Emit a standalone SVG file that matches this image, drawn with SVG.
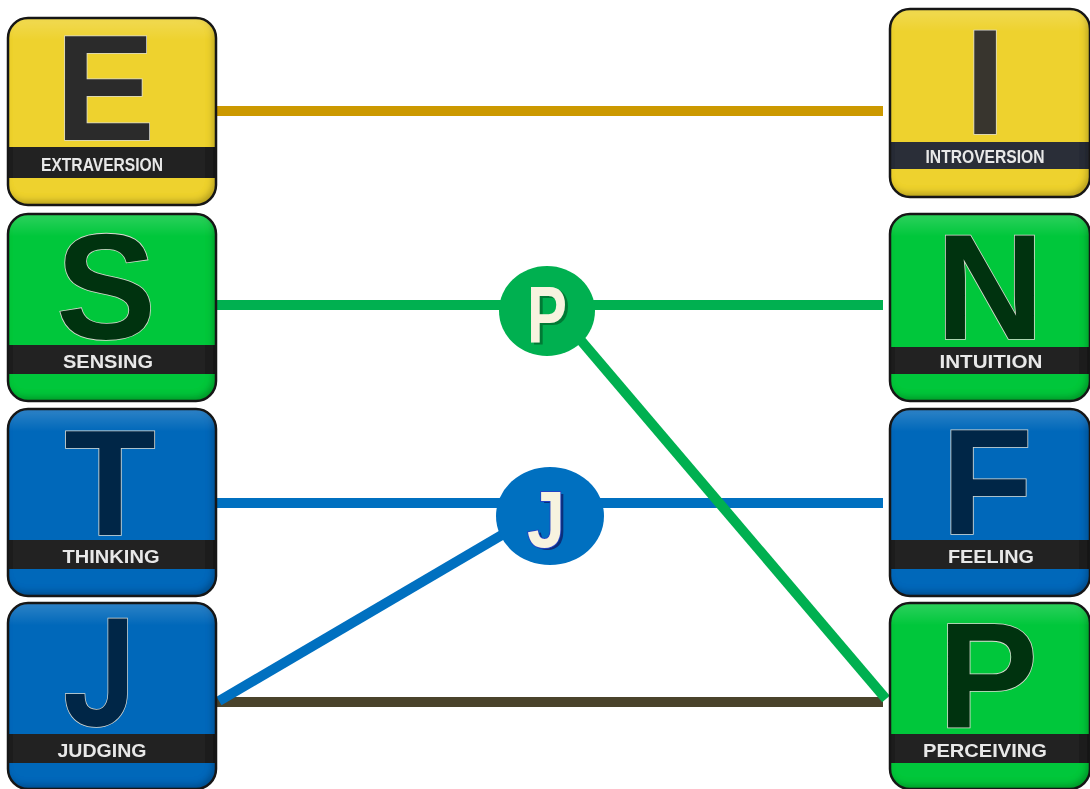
<svg xmlns="http://www.w3.org/2000/svg" width="1090" height="789" viewBox="0 0 1090 789">
  <defs>
    <!-- soft inner shading along the lower and right edges of each tile -->
    <filter id="bevel" x="-5%" y="-5%" width="110%" height="110%">
      <feGaussianBlur in="SourceAlpha" stdDeviation="3.5" result="blur"/>
      <feOffset in="blur" dx="-3" dy="-4" result="shift"/>
      <feComposite in="SourceAlpha" in2="shift" operator="out" result="edge"/>
      <feFlood flood-color="#000" flood-opacity="0.5"/>
      <feComposite in2="edge" operator="in" result="shade"/>
      <feMerge>
        <feMergeNode in="SourceGraphic"/>
        <feMergeNode in="shade"/>
      </feMerge>
    </filter>
    <filter id="soft" x="-10%" y="-10%" width="120%" height="120%">
      <feGaussianBlur stdDeviation="0.4"/>
    </filter>
    <linearGradient id="gloss" x1="0" y1="0" x2="0" y2="1">
      <stop offset="0" stop-color="#fff" stop-opacity="0.18"/>
      <stop offset="0.12" stop-color="#fff" stop-opacity="0"/>
      <stop offset="1" stop-color="#fff" stop-opacity="0"/>
    </linearGradient>
  </defs>

  <style>
    .yellow { fill: #eed22e; }
    .green  { fill: #03c73b; }
    .blue   { fill: #0468ba; }
    .frame  { fill: none; stroke: #161616; stroke-width: 2.5; }
    .gloss  { fill: url(#gloss); }
    .band   { fill: #232323; }
    .band-i { fill: #2b2d37; }
    .big    { font-family: "Liberation Sans", Arial, sans-serif; font-weight: bold; font-size: 150px;
              text-anchor: middle; stroke: #d9d9d0; stroke-width: 1.6; paint-order: stroke; }
    .plain  { font-family: Roboto, "Liberation Sans", sans-serif; }
    .dk     { fill: #2b2b2b; }
    .dk-i   { fill: #38352e; }
    .dg     { fill: #00330f; }
    .db     { fill: #002647; }
    .label  { font-family: "Liberation Sans", Arial, sans-serif; font-weight: bold; font-size: 19px;
              fill: #e8e8e8; text-anchor: middle; filter: url(#soft); }
    .line   { fill: none; stroke-width: 10; }
    .gold   { stroke: #cc9900; }
    .grn    { stroke: #00b050; }
    .blu    { stroke: #0070c0; }
    .olive  { stroke: #4a432b; }
    .hub    { font-family: "Liberation Sans", Arial, sans-serif; font-weight: bold; font-size: 80px; text-anchor: middle; }
  </style>

  <!-- connectors -->
  <g id="connectors">
    <line class="line olive" x1="216" y1="702" x2="883" y2="702"/>
    <line class="line gold" x1="216" y1="111" x2="883" y2="111"/>
    <line class="line grn" x1="216" y1="305" x2="883" y2="305"/>
    <line class="line blu" x1="216" y1="503" x2="883" y2="503"/>
    <line class="line blu" x1="219" y1="701" x2="512" y2="529"/>
    <line class="line grn" stroke-width="11" x1="572" y1="330" x2="886" y2="699"/>
  </g>

  <!-- left column -->
  <g id="node-e" transform="translate(8,18)">
    <g filter="url(#bevel)">
      <rect class="yellow" width="208" height="187" rx="20"/>
      <rect class="band" x="1" y="129" width="206" height="31"/>
    </g>
    <rect class="gloss" width="208" height="187" rx="20"/>
    <rect class="frame" width="208" height="187" rx="20"/>
    <text class="big dk" x="97" y="122">E</text>
    <text class="label" x="94" y="153" textLength="122" lengthAdjust="spacingAndGlyphs">EXTRAVERSION</text>
  </g>

  <g id="node-s" transform="translate(8,214)">
    <g filter="url(#bevel)">
      <rect class="green" width="208" height="187" rx="20"/>
      <rect class="band" x="1" y="131" width="206" height="29"/>
    </g>
    <rect class="gloss" width="208" height="187" rx="20"/>
    <rect class="frame" width="208" height="187" rx="20"/>
    <text class="big dg" x="98" y="125">S</text>
    <text class="label" x="100" y="154" textLength="90" lengthAdjust="spacingAndGlyphs">SENSING</text>
  </g>

  <g id="node-t" transform="translate(8,409)">
    <g filter="url(#bevel)">
      <rect class="blue" width="208" height="187" rx="20"/>
      <rect class="band" x="1" y="131" width="206" height="29"/>
    </g>
    <rect class="gloss" width="208" height="187" rx="20"/>
    <rect class="frame" width="208" height="187" rx="20"/>
    <text class="big db" x="102" y="126">T</text>
    <text class="label" x="103" y="154" textLength="97" lengthAdjust="spacingAndGlyphs">THINKING</text>
  </g>

  <g id="node-j" transform="translate(8,603)">
    <g filter="url(#bevel)">
      <rect class="blue" width="208" height="186" rx="20"/>
      <rect class="band" x="1" y="131" width="206" height="29"/>
    </g>
    <rect class="gloss" width="208" height="186" rx="20"/>
    <rect class="frame" width="208" height="186" rx="20"/>
    <text class="big plain db" x="91" y="123" textLength="72" lengthAdjust="spacingAndGlyphs">J</text>
    <text class="label" x="94" y="154" textLength="89" lengthAdjust="spacingAndGlyphs">JUDGING</text>
  </g>

  <!-- right column -->
  <g id="node-i" transform="translate(890,9)">
    <g filter="url(#bevel)">
      <rect class="yellow" width="200" height="188" rx="20"/>
      <rect class="band-i" x="1" y="133" width="198" height="27"/>
    </g>
    <rect class="gloss" width="200" height="188" rx="20"/>
    <rect class="frame" width="200" height="188" rx="20"/>
    <text class="big dk-i" x="95" y="125">I</text>
    <text class="label" x="95" y="154" textLength="119" lengthAdjust="spacingAndGlyphs">INTROVERSION</text>
  </g>

  <g id="node-n" transform="translate(890,214)">
    <g filter="url(#bevel)">
      <rect class="green" width="200" height="187" rx="20"/>
      <rect class="band" x="1" y="133" width="198" height="27"/>
    </g>
    <rect class="gloss" width="200" height="187" rx="20"/>
    <rect class="frame" width="200" height="187" rx="20"/>
    <text class="big dg" x="100" y="125">N</text>
    <text class="label" x="101" y="154" textLength="103" lengthAdjust="spacingAndGlyphs">INTUITION</text>
  </g>

  <g id="node-f" transform="translate(890,409)">
    <g filter="url(#bevel)">
      <rect class="blue" width="200" height="187" rx="20"/>
      <rect class="band" x="1" y="131" width="198" height="29"/>
    </g>
    <rect class="gloss" width="200" height="187" rx="20"/>
    <rect class="frame" width="200" height="187" rx="20"/>
    <text class="big db" x="97" y="125">F</text>
    <text class="label" x="101" y="154" textLength="86" lengthAdjust="spacingAndGlyphs">FEELING</text>
  </g>

  <g id="node-p" transform="translate(890,603)">
    <g filter="url(#bevel)">
      <rect class="green" width="200" height="186" rx="20"/>
      <rect class="band" x="1" y="131" width="198" height="29"/>
    </g>
    <rect class="gloss" width="200" height="186" rx="20"/>
    <rect class="frame" width="200" height="186" rx="20"/>
    <text class="big dg" x="98" y="124">P</text>
    <text class="label" x="95" y="154" textLength="124" lengthAdjust="spacingAndGlyphs">PERCEIVING</text>
  </g>

  <!-- hub circles on the connectors -->
  <g id="hub-p">
    <ellipse cx="547" cy="311" rx="48" ry="45" fill="#00b050"/>
    <text class="hub" x="550" y="344" fill="#007a35" textLength="40" lengthAdjust="spacingAndGlyphs">P</text>
    <text class="hub" x="547" y="342" fill="#f7f3df" textLength="40" lengthAdjust="spacingAndGlyphs">P</text>
  </g>

  <g id="hub-j">
    <ellipse cx="550" cy="516" rx="54" ry="49" fill="#0070c0"/>
    <text class="hub plain" x="549" y="549" fill="#0b2f7a" textLength="38" lengthAdjust="spacingAndGlyphs">J</text>
    <text class="hub plain" x="546" y="547" fill="#f7f3df" stroke="#2344c4" stroke-width="2" paint-order="stroke" textLength="38" lengthAdjust="spacingAndGlyphs">J</text>
  </g>
</svg>
